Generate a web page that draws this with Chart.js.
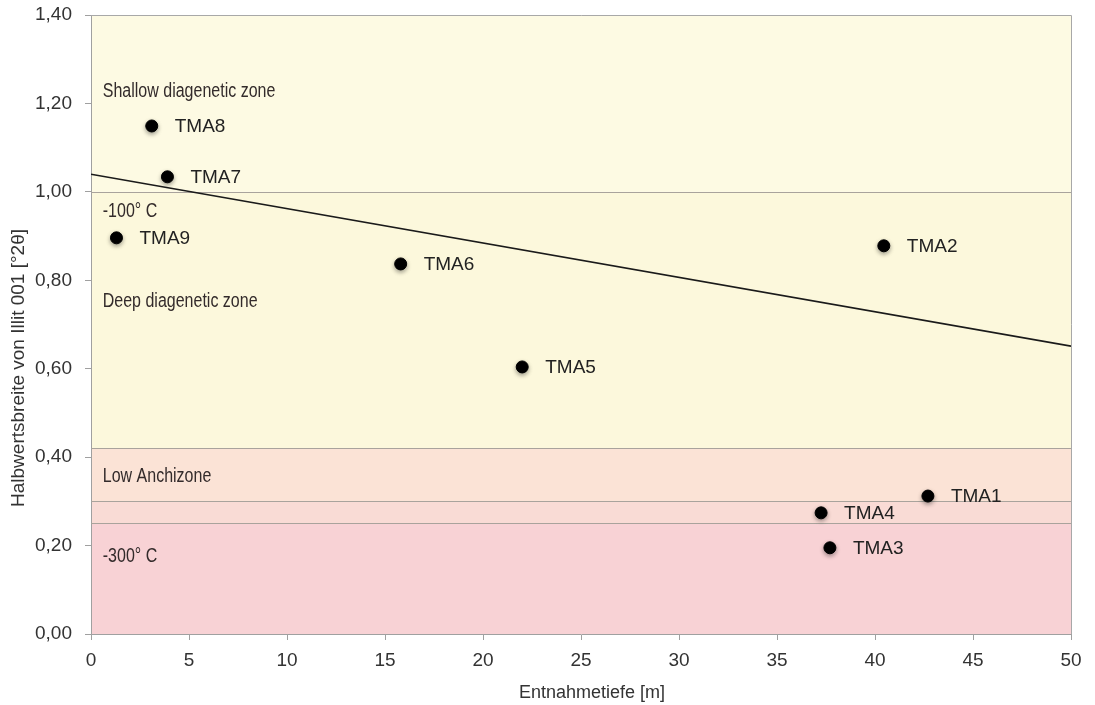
<!DOCTYPE html>
<html>
<head>
<meta charset="utf-8">
<script src="https://cdn.jsdelivr.net/npm/chart.js@4"></script>
<style>
  html, body { margin: 0; padding: 0; background: #fff; }
  #wrap { width: 1095px; height: 705px; }
</style>
</head>
<body>
<div id="wrap"><canvas id="mainChart"></canvas></div>
<script>
// Probe data (depth in m, FWHM illite 001 in °2θ)
var sampleNames = ["TMA1", "TMA2", "TMA3", "TMA4", "TMA5", "TMA6", "TMA7", "TMA8", "TMA9"];
var sampleDepth = [42.7, 40.45, 37.7, 37.25, 22.0, 15.8, 3.9, 3.1, 1.3];
var sampleFwhm  = [0.312, 0.878, 0.195, 0.274, 0.604, 0.837, 1.034, 1.149, 0.896];

// linear trend
var trendX = [0, 50];
var trendY = [1.04, 0.651];

// zone bands (bottom -> top)
var zoneLimits = [0, 0.25, 0.30, 0.42, 1.00, 1.40];
var zoneColors = ["#f8d2d5", "#f9dbd5", "#fbe3d6", "#fcf8dc", "#fdfae3"];
var zoneLines  = [0.25, 0.30, 0.42, 1.00];

var zoneLabels = ["Shallow diagenetic zone", "-100° C", "Deep diagenetic zone", "Low Anchizone", "-300° C"];
var zoneLabelY = [1.228, 0.955, 0.752, 0.356, 0.175];

var xTitle = "Entnahmetiefe [m]";
var yTitle = "Halbwertsbreite von Illit 001 [°2θ]";

var sansFont = "'Liberation Sans', Arial, Helvetica, sans-serif";

var zonePlugin = {
    id: 'zones',
    beforeDraw: function (chart) {
        var ctx = chart.ctx, area = chart.chartArea, y = chart.scales.y;
        ctx.save();
        for (var i = 0; i < zoneColors.length; i++) {
            var top = y.getPixelForValue(zoneLimits[i + 1]);
            var bot = y.getPixelForValue(zoneLimits[i]);
            ctx.fillStyle = zoneColors[i];
            ctx.fillRect(area.left, top, area.right - area.left, bot - top);
        }
        ctx.restore();
    },
    beforeDatasetsDraw: function (chart) {
        var ctx = chart.ctx, area = chart.chartArea, x = chart.scales.x, y = chart.scales.y;
        ctx.save();
        ctx.strokeStyle = "#a9a39c";
        ctx.lineWidth = 1;
        zoneLines.forEach(function (v) {
            var py = Math.round(y.getPixelForValue(v)) + 0.5;
            ctx.beginPath();
            ctx.moveTo(area.left, py);
            ctx.lineTo(area.right, py);
            ctx.stroke();
        });
        // top and right frame
        ctx.strokeStyle = "#a8a8a8";
        ctx.beginPath();
        ctx.moveTo(area.left, area.top + 0.5);
        ctx.lineTo(area.right + 0.5, area.top + 0.5);
        ctx.lineTo(area.right + 0.5, area.bottom);
        ctx.stroke();

        // zone names, condensed look
        ctx.fillStyle = "#332b2b";
        ctx.font = "20px " + sansFont;
        ctx.textBaseline = "middle";
        ctx.textAlign = "left";
        zoneLabels.forEach(function (t, i) {
            ctx.save();
            ctx.translate(x.getPixelForValue(0.6), y.getPixelForValue(zoneLabelY[i]));
            ctx.scale(0.8, 1);
            ctx.fillText(t, 0, 0);
            ctx.restore();
        });
        ctx.restore();
    },
    beforeDatasetDraw: function (chart, args) {
        if (args.index !== 0) return;
        var ctx = chart.ctx;
        ctx.save();
        ctx.shadowColor = "rgba(0,0,0,0.35)";
        ctx.shadowBlur = 4;
        ctx.shadowOffsetY = 2;
    },
    afterDatasetDraw: function (chart, args) {
        if (args.index !== 0) return;
        chart.ctx.restore();
    },
    afterDraw: function (chart) {
        var ctx = chart.ctx, meta = chart.getDatasetMeta(0);
        ctx.save();
        ctx.fillStyle = "#222";
        ctx.font = "19px " + sansFont;
        ctx.textBaseline = "middle";
        ctx.textAlign = "left";
        meta.data.forEach(function (pt, i) {
            ctx.fillText(sampleNames[i], pt.x + 23, pt.y + 1);
        });

        // axis titles
        ctx.fillStyle = "#333";
        ctx.font = "18px " + sansFont;
        ctx.textAlign = "center";
        ctx.fillText(xTitle, 592, 693);
        ctx.translate(19, 368);
        ctx.rotate(-Math.PI / 2);
        ctx.font = "19px " + sansFont;
        ctx.fillText(yTitle, 0, 0);
        ctx.restore();
    }
};

var ctx = document.getElementById('mainChart');

var chartData = {
    datasets: [
        {
            label: "Proben",
            data: sampleDepth.map(function (d, i) { return { x: d, y: sampleFwhm[i] }; }),
            backgroundColor: "#000",
            borderColor: "#000",
            pointRadius: 6,
            pointHoverRadius: 6,
            showLine: false
        },
        {
            label: "Trend",
            type: 'line',
            data: trendX.map(function (d, i) { return { x: d, y: trendY[i] }; }),
            borderColor: "#1a1a1a",
            borderWidth: 1.6,
            pointRadius: 0,
            fill: false
        }
    ]
};

var chartOptions = {
    responsive: true,
    maintainAspectRatio: false,
    animation: false,
    layout: {
        padding: { top: 15, right: 24, left: 0, bottom: 0 }
    },
    plugins: {
        legend: { display: false },
        tooltip: { enabled: false }
    },
    scales: {
        x: {
            type: 'linear',
            min: 0,
            max: 50,
            afterFit: function (scale) {
                scale.height = 71;
                scale.paddingLeft = 0;
                scale.paddingRight = 0;
            },
            grid: {
                drawOnChartArea: false,
                drawTicks: true,
                tickLength: 6,
                tickColor: "#a0a0a0"
            },
            border: { color: "#a0a0a0" },
            ticks: {
                stepSize: 5,
                padding: 9,
                color: "#333",
                font: { family: sansFont, size: 19 }
            }
        },
        y: {
            min: 0,
            max: 1.4,
            afterFit: function (scale) {
                scale.width = 91;
                scale.paddingTop = 0;
                scale.paddingBottom = 0;
            },
            grid: {
                drawOnChartArea: false,
                drawTicks: true,
                tickLength: 6,
                tickColor: "#a0a0a0"
            },
            border: { color: "#a0a0a0" },
            ticks: {
                stepSize: 0.2,
                padding: 13,
                color: "#333",
                font: { family: sansFont, size: 19 },
                callback: function (v) { return v.toFixed(2).replace('.', ','); }
            }
        }
    }
};

new Chart(ctx, {
    type: 'scatter',
    data: chartData,
    options: chartOptions,
    plugins: [zonePlugin]
});
</script>
</body>
</html>
